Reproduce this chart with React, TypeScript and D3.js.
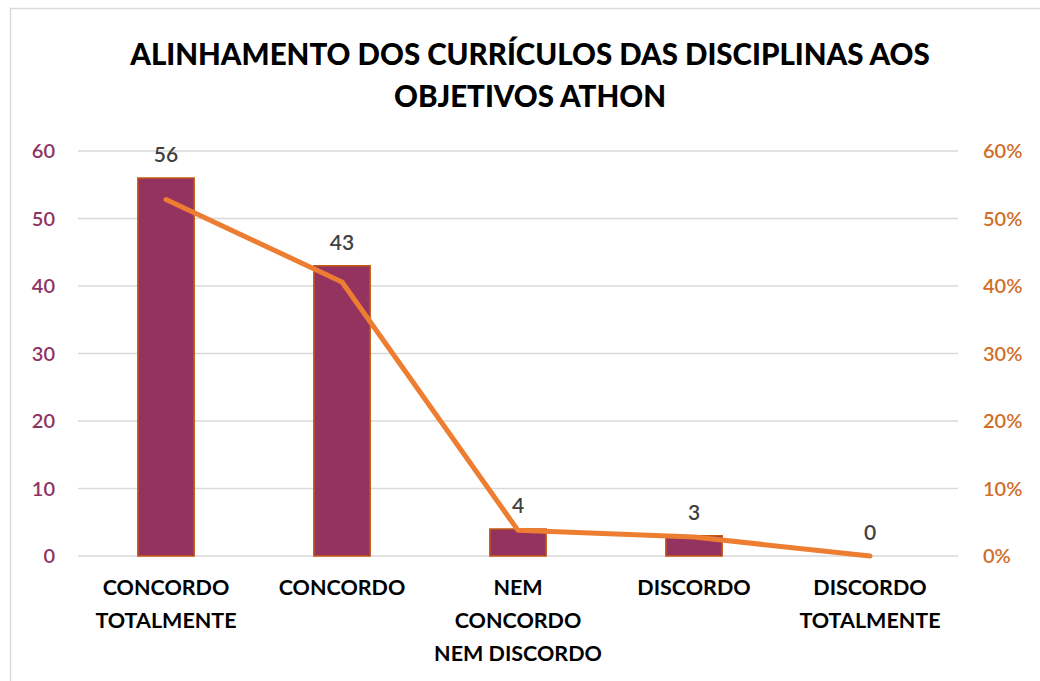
import React, { useEffect, useRef } from 'react';
import * as d3 from 'd3';

const title = ['ALINHAMENTO DOS CURRÍCULOS DAS DISCIPLINAS AOS', 'OBJETIVOS ATHON'];
const categories = ['CONCORDO\nTOTALMENTE', 'CONCORDO', 'NEM\nCONCORDO\nNEM DISCORDO', 'DISCORDO', 'DISCORDO\nTOTALMENTE'];
const counts = [56, 43, 4, 3, 0];
const shares = [0.528, 0.406, 0.038, 0.028, 0];
const leftTicks = [0, 10, 20, 30, 40, 50, 60];
const rightTicks = [0, 0.1, 0.2, 0.3, 0.4, 0.5, 0.6];

const FONT = 'Lato, "Open Sans", sans-serif';

export default function App() {
    const svgRef = useRef<SVGSVGElement | null>(null);

    useEffect(() => {
        const svg = d3.select(svgRef.current);
        svg.selectAll('*').remove();

        const left = 78, right = 958, top = 151, bottom = 556;

        const x = d3.scaleBand<string>()
            .domain(categories)
            .range([left, right])
            .paddingInner(0.68)
            .paddingOuter(0.34);

        const y = d3.scaleLinear().domain([0, 60]).range([bottom, top]);
        const y2 = d3.scaleLinear().domain([0, 0.6]).range([bottom, top]);

        // chart frame
        svg.append('rect')
            .attr('x', 10.5).attr('y', 8.5)
            .attr('width', 1100).attr('height', 700)
            .attr('fill', 'white')
            .attr('stroke', '#d9d9d9')
            .attr('stroke-width', 1.5);

        svg.append('g')
            .selectAll('text')
            .data(title)
            .enter()
            .append('text')
            .attr('x', 530)
            .attr('y', (d, i) => 65 + i * 42)
            .attr('text-anchor', 'middle')
            .attr('font-family', FONT)
            .attr('font-weight', 900)
            .attr('font-size', 29.5)
            .attr('fill', '#000')
            .text(d => d);

        // gridlines
        svg.append('g')
            .selectAll('line')
            .data(leftTicks)
            .enter()
            .append('line')
            .attr('x1', left).attr('x2', right)
            .attr('y1', d => y(d)).attr('y2', d => y(d))
            .attr('stroke', '#d9d9d9')
            .attr('stroke-width', 1.5);

        svg.append('g')
            .selectAll('text')
            .data(leftTicks)
            .enter()
            .append('text')
            .attr('x', 55)
            .attr('y', d => y(d) + 7)
            .attr('text-anchor', 'end')
            .attr('font-family', FONT)
            .attr('font-weight', 600)
            .attr('font-size', 20)
            .attr('fill', '#8e3462')
            .text(d => d);

        svg.append('g')
            .selectAll('text')
            .data(rightTicks)
            .enter()
            .append('text')
            .attr('x', 983)
            .attr('y', d => y2(d) + 7)
            .attr('text-anchor', 'start')
            .attr('font-family', FONT)
            .attr('font-weight', 600)
            .attr('font-size', 20)
            .attr('fill', '#d06e2a')
            .text(d => d3.format('.0%')(d));

        // bars
        svg.append('g')
            .selectAll('rect')
            .data(counts)
            .enter()
            .append('rect')
            .attr('x', (d, i) => x(categories[i])!)
            .attr('width', x.bandwidth())
            .attr('y', d => y(d))
            .attr('height', d => bottom - y(d))
            .attr('fill', '#953360')
            .attr('stroke', '#c55a11')
            .attr('stroke-width', 1.5);

        // share line
        const line = d3.line<number>()
            .x((d, i) => x(categories[i])! + x.bandwidth() / 2)
            .y(d => y2(d));

        svg.append('path')
            .datum(shares)
            .attr('d', line)
            .attr('fill', 'none')
            .attr('stroke', '#ed7d31')
            .attr('stroke-width', 5)
            .attr('stroke-linejoin', 'round')
            .attr('stroke-linecap', 'round');

        // data labels
        svg.append('g')
            .selectAll('text')
            .data(counts)
            .enter()
            .append('text')
            .attr('x', (d, i) => x(categories[i])! + x.bandwidth() / 2)
            .attr('y', d => y(d) - 16)
            .attr('text-anchor', 'middle')
            .attr('font-family', FONT)
            .attr('font-weight', 600)
            .attr('font-size', 21)
            .attr('fill', '#404040')
            .text(d => d);

        // category labels
        const cat = svg.append('g')
            .selectAll('text')
            .data(categories)
            .enter()
            .append('text')
            .attr('text-anchor', 'middle')
            .attr('font-family', FONT)
            .attr('font-weight', 'bold')
            .attr('font-size', 21.5)
            .attr('fill', '#000');

        cat.each(function (d) {
            const t = d3.select(this);
            d.split('\n').forEach((part, j) => {
                t.append('tspan')
                    .attr('x', x(d)! + x.bandwidth() / 2)
                    .attr('y', 595 + j * 33)
                    .text(part);
            });
        });
    }, []);

    return (
        <svg
            ref={svgRef}
            width={1040}
            height={681}
            viewBox="0 0 1040 681"
            style={{ position: 'absolute', left: 0, top: 0, background: '#fff' }}
        />
    );
}
